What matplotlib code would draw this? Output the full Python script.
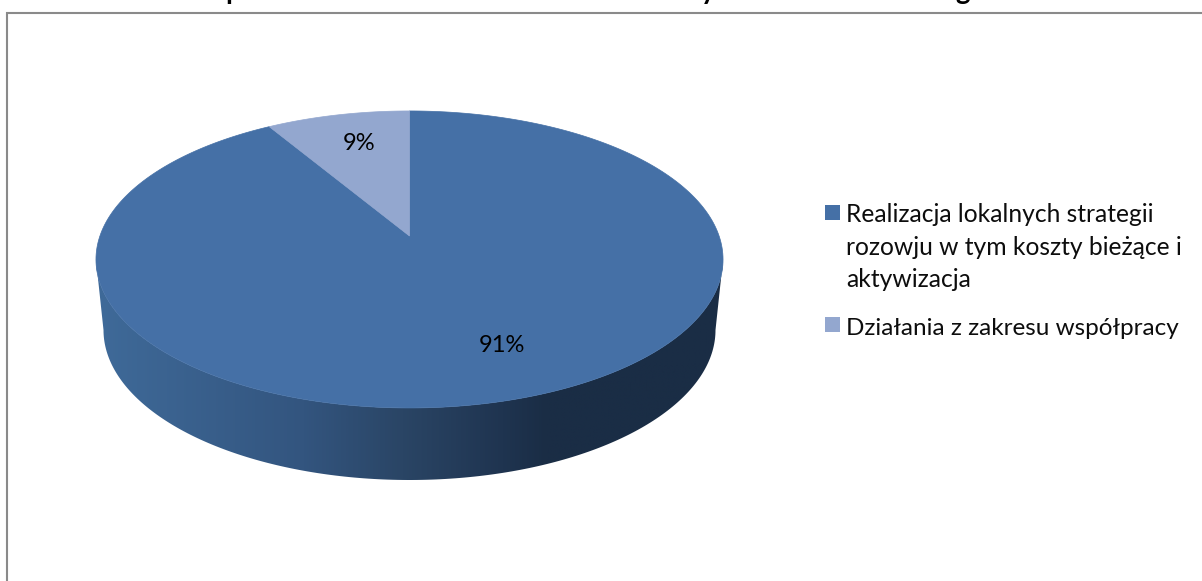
import numpy as np
import matplotlib
matplotlib.use('Agg')
import matplotlib.pyplot as plt
from matplotlib.colors import LinearSegmentedColormap
from matplotlib.patches import Polygon, Rectangle

# Data
categories = ['Realizacja lokalnych strategii\nrozowju w tym koszty bieżące i\naktywizacja',
              'Działania z zakresu współpracy']
values = [91.4, 8.6]
colors = ['#4570a6', '#93a7cf']

# Only the descenders of the title are left in the picture
title_bits = ['p', 'y', 'g']
title_x = [233, 708, 963]

plt.rcParams['font.family'] = ['Lato', 'DejaVu Sans']

# Tilted disc: unit circle to pixels, with perspective
cx, cy = 409.5, 236
a, b, k = 144.8, 309.6, 0.158


def project(x, y):
    w = 1 + k * y
    return cx + b * x / w, cy - a * y / w


fig = plt.figure(figsize=(12.02, 5.81), dpi=100)
ax = fig.add_axes([0, 0, 1, 1])
ax.set_xlim(0, 1202)
ax.set_ylim(581, 0)
ax.axis('off')

# Side of the pie, gradient clipped to the outline
# starts at the widest points of the top face
t0 = np.arcsin(k)
t = np.linspace(np.pi + t0, 2 * np.pi - t0, 200)
top_x, top_y = project(np.cos(t), np.sin(t))
t2 = np.linspace(np.pi, 2 * np.pi, 200)
bottom_x = 409.5 + 306 * np.cos(t2)
bottom_y = 330 - 150 * np.sin(t2)
side_pts = np.column_stack([np.r_[top_x, bottom_x[::-1]], np.r_[top_y, bottom_y[::-1]]])
side = Polygon(side_pts, closed=True, fc='none', ec='none')
ax.add_patch(side)
side_cmap = LinearSegmentedColormap.from_list('side', [
    (0.0, '#3f6a99'), (0.33, '#33557f'), (0.49, '#2a4565'),
    (0.65, '#1f3450'), (0.72, '#1a2d45'), (1.0, '#1a2d45')])
grad = np.linspace(0, 1, 512).reshape(1, -1)
im = ax.imshow(grad, cmap=side_cmap, extent=[96, 723, 490, 240], aspect='auto', zorder=1)
im.set_clip_path(side)
ax.set_xlim(0, 1202)
ax.set_ylim(581, 0)

# Top of the pie, clockwise from 12 o'clock
edges = np.r_[0, np.cumsum(values)] / np.sum(values) * 2 * np.pi
for i in range(len(values)):
    ang = np.linspace(edges[i], edges[i + 1], 300)
    px, py = project(np.sin(ang), np.cos(ang))
    ax.fill(np.r_[cx, px], np.r_[cy, py], color=colors[i], lw=0.5, zorder=2)

# Percentage labels
pct = [f'{v:.0f}%' for v in values]
ax.text(502, 345, pct[0], ha='center', va='center', fontsize=17, color='black', zorder=3)
ax.text(359, 143, pct[1], ha='center', va='center', fontsize=17, color='black', zorder=3)

# Legend
legend_y = [205, 317]
lines = categories[0].split('\n')
ax.add_patch(Rectangle((825, legend_y[0]), 15, 15, fc=colors[0], ec='none', zorder=3))
ax.add_patch(Rectangle((825, legend_y[1]), 15, 15, fc=colors[1], ec='none', zorder=3))
ax.text(846, 222, lines[0], ha='left', va='baseline', fontsize=17.7, color='#0d0d0d')
ax.text(846, 255, lines[1], ha='left', va='baseline', fontsize=17.7, color='#0d0d0d')
ax.text(846, 287, lines[2], ha='left', va='baseline', fontsize=17.7, color='#0d0d0d')
ax.text(846, 335, categories[1], ha='left', va='baseline', fontsize=17.5, color='#0d0d0d')

# Frame, open to the right and at the bottom
ax.plot([6.5, 6.5, 1202], [581, 13, 13], color='#8a8a8a', lw=1.5, solid_joinstyle='miter', zorder=4)

# Title remains, cut by the image edge
for s, x in zip(title_bits, title_x):
    ax.text(x, -1, s, ha='center', va='baseline', fontsize=20, fontweight='bold', color='black')

fig.savefig('out.png', dpi=100)
